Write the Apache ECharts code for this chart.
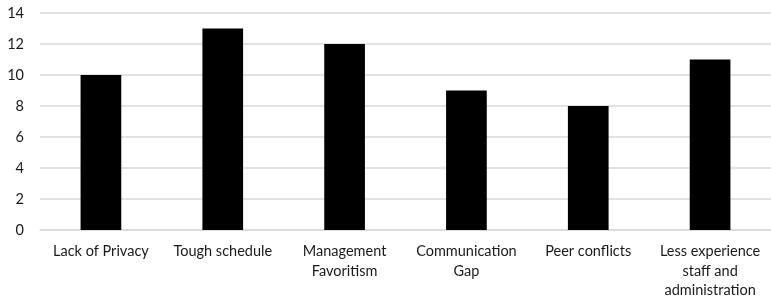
<!DOCTYPE html>
<html>
<head>
<meta charset="utf-8">
<script src="https://cdn.jsdelivr.net/npm/echarts@6/dist/echarts.min.js"></script>
<style>html,body{margin:0;padding:0;background:#fff;}#c{width:771px;height:301px;}</style>
</head>
<body>
<div id="c"></div>
<script>
const categories = ["Lack of Privacy", "Tough schedule", "Management\nFavoritism", "Communication\nGap", "Peer conflicts", "Less experience\nstaff and\nadministration"];
const values = [10, 13, 12, 9, 8, 11];
const yTicks = [0, 2, 4, 6, 8, 10, 12, 14];

const chart = echarts.init(document.getElementById('c'), null, {renderer: 'canvas'});
chart.setOption({
  animation: false,
  grid: {left: 40, width: 736, top: 13, height: 217, containLabel: false},
  xAxis: {
    type: 'category',
    data: categories,
    axisTick: {show: false},
    axisLine: {lineStyle: {color: '#d9d9d9', width: 1.5}},
    axisLabel: {color: '#1a1a1a', fontFamily: 'Lato', fontSize: 14.5, margin: 12, lineHeight: 19.5, interval: 0}
  },
  yAxis: {
    type: 'value',
    min: yTicks[0], max: yTicks[yTicks.length - 1], interval: 2,
    axisLine: {show: false},
    axisTick: {show: false},
    splitLine: {lineStyle: {color: '#d9d9d9', width: 1.5}},
    axisLabel: {color: '#1a1a1a', fontFamily: 'Lato', fontSize: 14.5, margin: 16}
  },
  series: [{
    type: 'bar',
    data: values,
    barWidth: '33.4%',
    itemStyle: {color: '#000000'}
  }]
});
</script>
</body>
</html>
